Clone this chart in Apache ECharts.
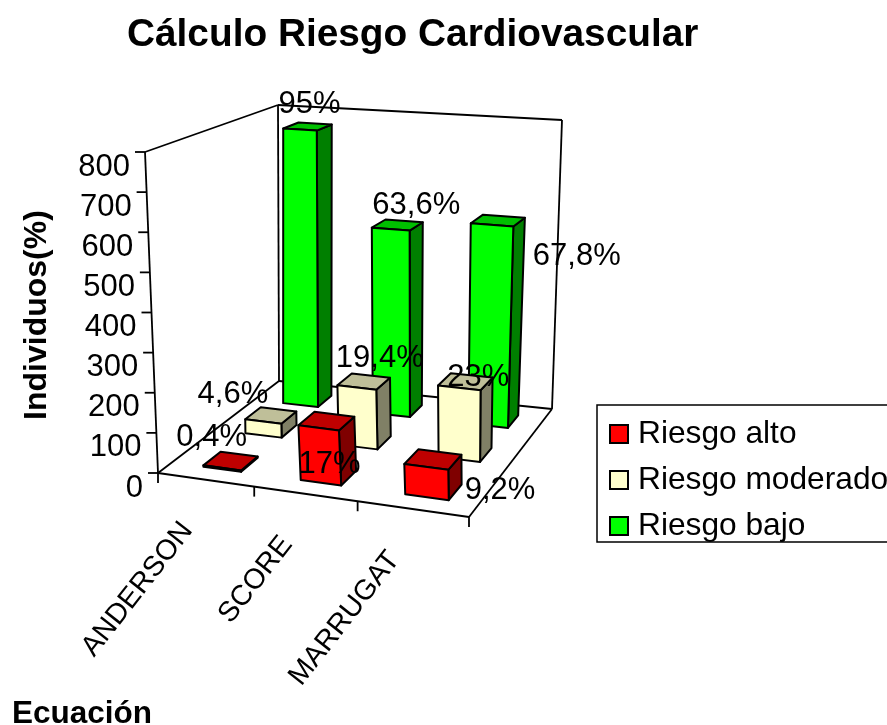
<!DOCTYPE html>
<html><head><meta charset="utf-8">
<style>html,body{margin:0;padding:0;background:#fff}#c{width:887px;height:725px}</style>
<script src="https://cdn.jsdelivr.net/npm/echarts@6/dist/echarts.min.js"></script>
</head><body><div id="c"></div>
<script>
// ---- data ----
const categories = ['ANDERSON', 'SCORE', 'MARRUGAT'];
const riesgoAlto = [3.2, 136, 74];
const riesgoModerado = [36.8, 155, 184];
const riesgoBajo = [766, 509, 542];
const labelsAlto = ['0,4%', '17%', '9,2%'];
const labelsModerado = ['4,6%', '19,4%', '23%'];
const labelsBajo = ['95%', '63,6%', '67,8%'];
const tickValues = [0, 100, 200, 300, 400, 500, 600, 700, 800];

// ---- layout of the 3D box (pixels of its corners) ----
const FLOOR = [[158, 473], [469, 517], [552, 409], [279, 381]];
const TOP = [[145, 152], [460, 183], [562, 120], [278, 105]];
const BAR_U = 0.132, BAR_V = 0.132, U_SHIFT = 0.012, BAR_LEAN = 5;
const FONT = '"Liberation Sans", Arial, sans-serif';
const F = 31;
const INK = '#000';
const LABEL_OFFSETS = {
  alto: [[-19, -23], [3, 44], [67, 31]],
  moderado: [[-38, -21], [16, -23], [13, -4]],
  bajo: [[2, -22], [19, -19], [79, 36]]
};

function homography(q) {
  const [x0, y0] = q[0], [x1, y1] = q[1], [x2, y2] = q[2], [x3, y3] = q[3];
  const dx1 = x1 - x2, dx2 = x3 - x2, sx = x0 - x1 + x2 - x3;
  const dy1 = y1 - y2, dy2 = y3 - y2, sy = y0 - y1 + y2 - y3;
  const den = dx1 * dy2 - dx2 * dy1;
  const g = (sx * dy2 - dx2 * sy) / den, h = (dx1 * sy - sx * dy1) / den;
  const a = x1 - x0 + g * x1, b = x3 - x0 + h * x3, d = y1 - y0 + g * y1, e = y3 - y0 + h * y3;
  return (u, v) => {
    const w = g * u + h * v + 1;
    return [(a * u + b * v + x0) / w, (d * u + e * v + y0) / w];
  };
}
const floorAt = homography(FLOOR), topAt = homography(TOP);
function P(u, v, t) {
  const a = floorAt(u, v), b = topAt(u, v);
  return [a[0] + (b[0] - a[0]) * t, a[1] + (b[1] - a[1]) * t];
}
function B(u, v, t) {
  const p = P(u, v, t);
  return [p[0] + BAR_LEAN * t, p[1]];
}
// fractions along the hidden axes, obtained from the chart's own scales
function frac(api, params, i, val) {
  const c = api.coord([i, val]);
  const cs = params.coordSys;
  return { u: (c[0] - cs.x) / cs.width, t: (cs.y + cs.height - c[1]) / cs.height };
}
const seg = (a, b, w) => ({ type: 'line', shape: { x1: a[0], y1: a[1], x2: b[0], y2: b[1] }, style: { stroke: INK, lineWidth: w || 1.8 } });
const txt = (s, p, extra) => ({ type: 'text', x: p[0], y: p[1], style: Object.assign({ text: s, x: 0, y: 0, fill: INK, font: F + 'px ' + FONT, align: 'center', verticalAlign: 'middle', textAlign: 'center', textVerticalAlign: 'middle' }, extra || {}) });

function barSeries(name, values, row, front, side, top) {
  return {
    name, type: 'custom', coordinateSystem: 'cartesian2d', z: 3 + (2 - row),
    itemStyle: { color: front, borderColor: INK, borderWidth: 1.5 },
    data: values.map((v, i) => [i, v]),
    encode: { x: 0, y: 1 },
    renderItem(params, api) {
      const f = frac(api, params, api.value(0), api.value(1));
      const vc = (row + 0.5) / 3, uc = f.u + U_SHIFT;
      const u0 = uc - BAR_U / 2, u1 = uc + BAR_U / 2, v0 = vc - BAR_V / 2, v1 = vc + BAR_V / 2, t = f.t;
      const poly = (pts, fill) => ({ type: 'polygon', shape: { points: pts }, style: { fill, stroke: INK, lineWidth: 2, lineJoin: 'round' } });
      return { type: 'group', children: [
        poly([B(u1, v0, 0), B(u1, v1, 0), B(u1, v1, t), B(u1, v0, t)], side),
        poly([B(u0, v0, t), B(u1, v0, t), B(u1, v1, t), B(u0, v1, t)], top),
        poly([B(u0, v0, 0), B(u1, v0, 0), B(u1, v0, t), B(u0, v0, t)], front)
      ] };
    }
  };
}
function labelSeries(values, labels, row, offsets) {
  return {
    type: 'custom', coordinateSystem: 'cartesian2d', z: 10, silent: true,
    data: values.map((v, i) => [i, v]),
    encode: { x: 0, y: 1 },
    renderItem(params, api) {
      const i = api.value(0);
      const f = frac(api, params, i, api.value(1));
      const p = B(f.u + U_SHIFT, (row + 0.5) / 3, f.t);
      return txt(labels[i], [p[0] + offsets[i][0], p[1] + offsets[i][1]]);
    }
  };
}

const frameSeries = {
  type: 'custom', coordinateSystem: 'cartesian2d', z: 1, silent: true,
  data: tickValues.map(v => [0, v]),
  encode: { x: 0, y: 1 },
  renderItem(params, api) {
    const f = frac(api, params, 0, api.value(1));
    const a = P(0, 0, f.t);
    const kids = [seg(a, [a[0] - 10, a[1]]), txt(String(api.value(1)), [a[0] - 15, a[1] + 15], { align: 'right', textAlign: 'right' })];
    if (params.dataIndex === 0) {
      kids.push(
        seg(P(0, 0, 0), P(0, 0, 1)), seg(P(0, 0, 1), P(0, 1, 1)), seg(P(0, 1, 1), P(1, 1, 1)),
        seg(P(1, 1, 1), P(1, 1, 0)), seg(P(0, 1, 1), P(0, 1, 0)), seg(P(0, 0, 0), P(1, 0, 0)),
        seg(P(1, 0, 0), P(1, 1, 0)), seg(P(0, 1, 0), P(1, 1, 0)), seg(P(0, 0, 0), P(0, 1, 0))
      );
    }
    return { type: 'group', children: kids };
  }
};
const categorySeries = {
  type: 'custom', coordinateSystem: 'cartesian2d', z: 2, silent: true,
  data: categories.map((c, i) => [i, 0]),
  encode: { x: 0, y: 1 },
  renderItem(params, api) {
    const i = api.value(0);
    const f = frac(api, params, i, 0);
    const du = 0.5 / categories.length;
    const t0 = P(f.u - du, 0, 0);
    const kids = [seg(t0, [t0[0], t0[1] + 10])];
    if (i === categories.length - 1) { const e = P(f.u + du, 0, 0); kids.push(seg(e, [e[0], e[1] + 10])); }
    const c = P(f.u, 0, 0);
    kids.push(txt(categories[i], [c[0] - 18, c[1] + 46], { align: 'right', textAlign: 'right', font: '28.5px ' + FONT }));
    kids[kids.length - 1].rotation = 52 * Math.PI / 180;
    return { type: 'group', children: kids };
  }
};

const chart = echarts.init(document.getElementById('c'), null, { renderer: 'canvas' });
chart.setOption({
  animation: false,
  backgroundColor: '#fff',
  title: { text: 'Cálculo Riesgo Cardiovascular', left: 127, top: 16, padding: 0,
    textStyle: { fontFamily: FONT, fontSize: 38.8, fontWeight: 'bold', color: INK } },
  grid: { left: 145, top: 152, width: 320, height: 321, containLabel: false },
  xAxis: { type: 'category', data: categories, show: false },
  yAxis: { type: 'value', min: 0, max: 800, interval: 100, show: false },
  legend: {
    data: ['Riesgo alto', 'Riesgo moderado', 'Riesgo bajo'],
    orient: 'vertical', left: 597, top: 405, align: 'left', icon: 'rect',
    padding: [13, 12, 0, 12], itemGap: 14, itemWidth: 18, itemHeight: 18,
    borderColor: INK, borderWidth: 1.5, backgroundColor: '#fff',
    textStyle: { fontFamily: FONT, fontSize: 31.7, color: INK, padding: [0, 0, 0, 5] },
    selectedMode: false
  },
  graphic: [
    { type: 'text', x: 37, y: 315, rotation: Math.PI / 2, style: { text: 'Individuos(%)', x: 0, y: 0, fill: INK, font: 'bold 32px ' + FONT, align: 'center', verticalAlign: 'middle' } },
    { type: 'text', x: 12, y: 714, style: { text: 'Ecuación', x: 0, y: 0, fill: INK, font: 'bold 31.5px ' + FONT, align: 'left', verticalAlign: 'middle' } }
  ],
  series: [
    frameSeries,
    categorySeries,
    barSeries('Riesgo bajo', riesgoBajo, 2, '#00ff00', '#007f00', '#00bf00'),
    barSeries('Riesgo moderado', riesgoModerado, 1, '#ffffcc', '#808066', '#bfbf99'),
    barSeries('Riesgo alto', riesgoAlto, 0, '#ff0000', '#7f0000', '#bf0000'),
    labelSeries(riesgoBajo, labelsBajo, 2, LABEL_OFFSETS.bajo),
    labelSeries(riesgoModerado, labelsModerado, 1, LABEL_OFFSETS.moderado),
    labelSeries(riesgoAlto, labelsAlto, 0, LABEL_OFFSETS.alto)
  ]
});
</script></body></html>
